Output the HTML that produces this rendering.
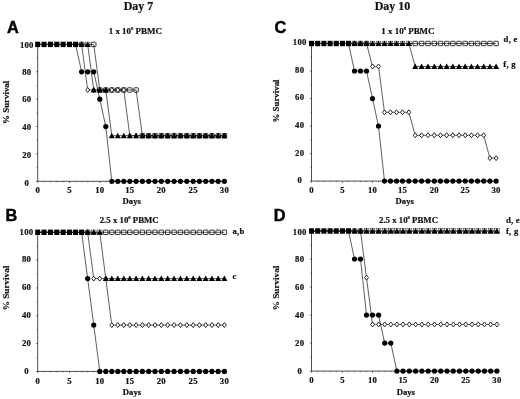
<!DOCTYPE html>
<html><head><meta charset="utf-8"><title>Survival figure</title>
<style>
html,body{margin:0;padding:0;background:#fff;}
body{width:520px;height:399px;overflow:hidden;}
svg{display:block;}
text{font-family:"Liberation Serif","Times New Roman",serif;font-weight:bold;fill:#111;stroke:#111;stroke-width:0.2px;}
.t{font-size:8.7px;letter-spacing:0.25px;}
.pt{font-size:8.95px;}
.al{font-size:8.7px;}
.h{font-size:12px;}
.pl{font-family:"Liberation Sans",Arial,sans-serif;font-size:16.3px;font-weight:bold;fill:#000;stroke:#000;stroke-width:0.45px;}
</style></head><body>
<svg width="520" height="399" viewBox="0 0 520 399">
<rect width="520" height="399" fill="#fff"/>
<text x="138.5" y="10.1" text-anchor="middle" class="h">Day 7</text>
<text x="392.5" y="10.0" text-anchor="middle" class="h">Day 10</text>
<path d="M37.70 44.40V181.30H224.40" fill="none" stroke="#3a3a3a" stroke-width="0.9"/>
<path d="M36.00 181.30H37.70M36.60 167.61H37.70M36.00 153.92H37.70M36.60 140.23H37.70M36.00 126.54H37.70M36.60 112.85H37.70M36.00 99.16H37.70M36.60 85.47H37.70M36.00 71.78H37.70M36.60 58.09H37.70M36.00 44.40H37.70M37.70 181.30v1.7M44.06 181.30v1.0M50.42 181.30v1.0M56.78 181.30v1.0M63.14 181.30v1.0M69.50 181.30v1.7M75.56 181.30v1.0M81.62 181.30v1.0M87.68 181.30v1.0M93.74 181.30v1.0M99.80 181.30v1.7M105.80 181.30v1.0M111.80 181.30v1.0M117.80 181.30v1.0M123.80 181.30v1.0M129.80 181.30v1.7M136.10 181.30v1.0M142.40 181.30v1.0M148.70 181.30v1.0M155.00 181.30v1.0M161.30 181.30v1.7M167.68 181.30v1.0M174.06 181.30v1.0M180.44 181.30v1.0M186.82 181.30v1.0M193.20 181.30v1.7M199.44 181.30v1.0M205.68 181.30v1.0M211.92 181.30v1.0M218.16 181.30v1.0M224.40 181.30v1.7" stroke="#3a3a3a" stroke-width="0.7" fill="none"/>
<text x="26.80" y="185.90" text-anchor="middle" class="t">0</text>
<text x="26.80" y="158.30" text-anchor="middle" class="t">20</text>
<text x="26.80" y="129.90" text-anchor="middle" class="t">40</text>
<text x="26.80" y="102.20" text-anchor="middle" class="t">60</text>
<text x="26.80" y="74.90" text-anchor="middle" class="t">80</text>
<text x="26.80" y="47.50" text-anchor="middle" class="t">100</text>
<text x="37.70" y="193.10" text-anchor="middle" class="t">0</text>
<text x="69.50" y="193.10" text-anchor="middle" class="t">5</text>
<text x="99.80" y="193.10" text-anchor="middle" class="t">10</text>
<text x="129.80" y="193.10" text-anchor="middle" class="t">15</text>
<text x="161.30" y="193.10" text-anchor="middle" class="t">20</text>
<text x="193.20" y="193.10" text-anchor="middle" class="t">25</text>
<text x="224.40" y="193.10" text-anchor="middle" class="t">30</text>
<path d="M37.70 44.40L44.06 44.40L50.42 44.40L56.78 44.40L63.14 44.40L69.50 44.40L75.56 44.40L81.62 44.40L87.68 44.40L93.74 44.40L99.80 89.99L105.80 89.99L111.80 89.99L117.80 89.99L123.80 89.99L129.80 89.99L136.10 89.99L142.40 135.71L148.70 135.71L155.00 135.71L161.30 135.71L167.68 135.71L174.06 135.71L180.44 135.71L186.82 135.71L193.20 135.71L199.44 135.71L205.68 135.71L211.92 135.71L218.16 135.71L224.40 135.71" fill="none" stroke="#2a2a2a" stroke-width="0.75"/>
<path d="M37.70 44.40L44.06 44.40L50.42 44.40L56.78 44.40L63.14 44.40L69.50 44.40L75.56 44.40L81.62 44.40L87.68 89.99L93.74 89.99L99.80 89.99L105.80 89.99L111.80 89.99L117.80 89.99L123.80 89.99L129.80 135.71L136.10 135.71L142.40 135.71L148.70 135.71L155.00 135.71L161.30 135.71L167.68 135.71L174.06 135.71L180.44 135.71L186.82 135.71L193.20 135.71L199.44 135.71L205.68 135.71L211.92 135.71L218.16 135.71L224.40 135.71" fill="none" stroke="#2a2a2a" stroke-width="0.75"/>
<path d="M37.70 44.40L44.06 44.40L50.42 44.40L56.78 44.40L63.14 44.40L69.50 44.40L75.56 44.40L81.62 44.40L87.68 44.40L93.74 89.99L99.80 89.99L105.80 89.99L111.80 135.71L117.80 135.71L123.80 135.71L129.80 135.71L136.10 135.71L142.40 135.71L148.70 135.71L155.00 135.71L161.30 135.71L167.68 135.71L174.06 135.71L180.44 135.71L186.82 135.71L193.20 135.71L199.44 135.71L205.68 135.71L211.92 135.71L218.16 135.71L224.40 135.71" fill="none" stroke="#2a2a2a" stroke-width="0.75"/>
<path d="M37.70 44.40L44.06 44.40L50.42 44.40L56.78 44.40L63.14 44.40L69.50 44.40L75.56 44.40L81.62 71.78L87.68 71.78L93.74 71.78L99.80 99.16L105.80 126.54L111.80 181.30L117.80 181.30L123.80 181.30L129.80 181.30L136.10 181.30L142.40 181.30L148.70 181.30L155.00 181.30L161.30 181.30L167.68 181.30L174.06 181.30L180.44 181.30L186.82 181.30L193.20 181.30L199.44 181.30L205.68 181.30L211.92 181.30L218.16 181.30L224.40 181.30" fill="none" stroke="#2a2a2a" stroke-width="0.75"/>
<rect x="79.37" y="42.20" width="4.5" height="4.4" rx="0.5" fill="none" stroke="#111" stroke-width="0.85"/>
<rect x="85.38" y="42.10" width="4.6" height="4.6" fill="none" stroke="#222" stroke-width="0.5"/>
<rect x="91.49" y="42.20" width="4.5" height="4.4" rx="0.5" fill="none" stroke="#111" stroke-width="0.85"/>
<rect x="97.55" y="87.79" width="4.5" height="4.4" rx="0.5" fill="none" stroke="#111" stroke-width="0.85"/>
<rect x="103.55" y="87.79" width="4.5" height="4.4" rx="0.5" fill="none" stroke="#111" stroke-width="0.85"/>
<rect x="109.55" y="87.79" width="4.5" height="4.4" rx="0.5" fill="none" stroke="#111" stroke-width="0.85"/>
<rect x="115.55" y="87.79" width="4.5" height="4.4" rx="0.5" fill="none" stroke="#111" stroke-width="0.85"/>
<rect x="121.55" y="87.79" width="4.5" height="4.4" rx="0.5" fill="none" stroke="#111" stroke-width="0.85"/>
<rect x="127.55" y="87.79" width="4.5" height="4.4" rx="0.5" fill="none" stroke="#111" stroke-width="0.85"/>
<rect x="133.85" y="87.79" width="4.5" height="4.4" rx="0.5" fill="none" stroke="#111" stroke-width="0.85"/>
<rect x="140.15" y="133.51" width="4.5" height="4.4" rx="0.5" fill="none" stroke="#111" stroke-width="0.85"/>
<rect x="146.45" y="133.51" width="4.5" height="4.4" rx="0.5" fill="none" stroke="#111" stroke-width="0.85"/>
<rect x="152.75" y="133.51" width="4.5" height="4.4" rx="0.5" fill="none" stroke="#111" stroke-width="0.85"/>
<rect x="159.05" y="133.51" width="4.5" height="4.4" rx="0.5" fill="none" stroke="#111" stroke-width="0.85"/>
<rect x="165.43" y="133.51" width="4.5" height="4.4" rx="0.5" fill="none" stroke="#111" stroke-width="0.85"/>
<rect x="171.81" y="133.51" width="4.5" height="4.4" rx="0.5" fill="none" stroke="#111" stroke-width="0.85"/>
<rect x="178.19" y="133.51" width="4.5" height="4.4" rx="0.5" fill="none" stroke="#111" stroke-width="0.85"/>
<rect x="184.57" y="133.51" width="4.5" height="4.4" rx="0.5" fill="none" stroke="#111" stroke-width="0.85"/>
<rect x="190.95" y="133.51" width="4.5" height="4.4" rx="0.5" fill="none" stroke="#111" stroke-width="0.85"/>
<rect x="197.19" y="133.51" width="4.5" height="4.4" rx="0.5" fill="none" stroke="#111" stroke-width="0.85"/>
<rect x="203.43" y="133.51" width="4.5" height="4.4" rx="0.5" fill="none" stroke="#111" stroke-width="0.85"/>
<rect x="209.67" y="133.51" width="4.5" height="4.4" rx="0.5" fill="none" stroke="#111" stroke-width="0.85"/>
<rect x="215.91" y="133.51" width="4.5" height="4.4" rx="0.5" fill="none" stroke="#111" stroke-width="0.85"/>
<rect x="222.15" y="133.51" width="4.5" height="4.4" rx="0.5" fill="none" stroke="#111" stroke-width="0.85"/>
<path d="M79.67 44.40L81.62 41.90L83.57 44.40L81.62 46.90Z" fill="#fff" stroke="#111" stroke-width="0.9" stroke-linejoin="round"/>
<path d="M85.73 89.99L87.68 87.49L89.63 89.99L87.68 92.49Z" fill="#fff" stroke="#111" stroke-width="0.9" stroke-linejoin="round"/>
<path d="M91.79 89.99L93.74 87.49L95.69 89.99L93.74 92.49Z" fill="#fff" stroke="#111" stroke-width="0.9" stroke-linejoin="round"/>
<path d="M97.85 89.99L99.80 87.49L101.75 89.99L99.80 92.49Z" fill="#fff" stroke="#111" stroke-width="0.9" stroke-linejoin="round"/>
<path d="M103.85 89.99L105.80 87.49L107.75 89.99L105.80 92.49Z" fill="#fff" stroke="#111" stroke-width="0.9" stroke-linejoin="round"/>
<path d="M109.85 89.99L111.80 87.49L113.75 89.99L111.80 92.49Z" fill="#fff" stroke="#111" stroke-width="0.9" stroke-linejoin="round"/>
<path d="M115.85 89.99L117.80 87.49L119.75 89.99L117.80 92.49Z" fill="#fff" stroke="#111" stroke-width="0.9" stroke-linejoin="round"/>
<path d="M121.85 89.99L123.80 87.49L125.75 89.99L123.80 92.49Z" fill="#fff" stroke="#111" stroke-width="0.9" stroke-linejoin="round"/>
<path d="M127.85 135.71L129.80 133.21L131.75 135.71L129.80 138.21Z" fill="#fff" stroke="#111" stroke-width="0.9" stroke-linejoin="round"/>
<path d="M134.15 135.71L136.10 133.21L138.05 135.71L136.10 138.21Z" fill="#fff" stroke="#111" stroke-width="0.9" stroke-linejoin="round"/>
<path d="M140.45 135.71L142.40 133.21L144.35 135.71L142.40 138.21Z" fill="#fff" stroke="#111" stroke-width="0.9" stroke-linejoin="round"/>
<path d="M146.75 135.71L148.70 133.21L150.65 135.71L148.70 138.21Z" fill="#fff" stroke="#111" stroke-width="0.9" stroke-linejoin="round"/>
<path d="M153.05 135.71L155.00 133.21L156.95 135.71L155.00 138.21Z" fill="#fff" stroke="#111" stroke-width="0.9" stroke-linejoin="round"/>
<path d="M159.35 135.71L161.30 133.21L163.25 135.71L161.30 138.21Z" fill="#fff" stroke="#111" stroke-width="0.9" stroke-linejoin="round"/>
<path d="M165.73 135.71L167.68 133.21L169.63 135.71L167.68 138.21Z" fill="#fff" stroke="#111" stroke-width="0.9" stroke-linejoin="round"/>
<path d="M172.11 135.71L174.06 133.21L176.01 135.71L174.06 138.21Z" fill="#fff" stroke="#111" stroke-width="0.9" stroke-linejoin="round"/>
<path d="M178.49 135.71L180.44 133.21L182.39 135.71L180.44 138.21Z" fill="#fff" stroke="#111" stroke-width="0.9" stroke-linejoin="round"/>
<path d="M184.87 135.71L186.82 133.21L188.77 135.71L186.82 138.21Z" fill="#fff" stroke="#111" stroke-width="0.9" stroke-linejoin="round"/>
<path d="M191.25 135.71L193.20 133.21L195.15 135.71L193.20 138.21Z" fill="#fff" stroke="#111" stroke-width="0.9" stroke-linejoin="round"/>
<path d="M197.49 135.71L199.44 133.21L201.39 135.71L199.44 138.21Z" fill="#fff" stroke="#111" stroke-width="0.9" stroke-linejoin="round"/>
<path d="M203.73 135.71L205.68 133.21L207.63 135.71L205.68 138.21Z" fill="#fff" stroke="#111" stroke-width="0.9" stroke-linejoin="round"/>
<path d="M209.97 135.71L211.92 133.21L213.87 135.71L211.92 138.21Z" fill="#fff" stroke="#111" stroke-width="0.9" stroke-linejoin="round"/>
<path d="M216.21 135.71L218.16 133.21L220.11 135.71L218.16 138.21Z" fill="#fff" stroke="#111" stroke-width="0.9" stroke-linejoin="round"/>
<path d="M222.45 135.71L224.40 133.21L226.35 135.71L224.40 138.21Z" fill="#fff" stroke="#111" stroke-width="0.9" stroke-linejoin="round"/>
<path d="M78.62 46.90L84.62 46.90L81.62 41.40Z" fill="#000"/>
<path d="M84.68 46.90L90.68 46.90L87.68 41.40Z" fill="#000"/>
<path d="M90.74 92.49L96.74 92.49L93.74 86.99Z" fill="#000"/>
<path d="M96.80 92.49L102.80 92.49L99.80 86.99Z" fill="#000"/>
<path d="M102.80 92.49L108.80 92.49L105.80 86.99Z" fill="#000"/>
<path d="M108.80 138.21L114.80 138.21L111.80 132.71Z" fill="#000"/>
<path d="M114.80 138.21L120.80 138.21L117.80 132.71Z" fill="#000"/>
<path d="M120.80 138.21L126.80 138.21L123.80 132.71Z" fill="#000"/>
<path d="M126.80 138.21L132.80 138.21L129.80 132.71Z" fill="#000"/>
<path d="M133.10 138.21L139.10 138.21L136.10 132.71Z" fill="#000"/>
<path d="M139.40 138.21L145.40 138.21L142.40 132.71Z" fill="#000"/>
<path d="M145.70 138.21L151.70 138.21L148.70 132.71Z" fill="#000"/>
<path d="M152.00 138.21L158.00 138.21L155.00 132.71Z" fill="#000"/>
<path d="M158.30 138.21L164.30 138.21L161.30 132.71Z" fill="#000"/>
<path d="M164.68 138.21L170.68 138.21L167.68 132.71Z" fill="#000"/>
<path d="M171.06 138.21L177.06 138.21L174.06 132.71Z" fill="#000"/>
<path d="M177.44 138.21L183.44 138.21L180.44 132.71Z" fill="#000"/>
<path d="M183.82 138.21L189.82 138.21L186.82 132.71Z" fill="#000"/>
<path d="M190.20 138.21L196.20 138.21L193.20 132.71Z" fill="#000"/>
<path d="M196.44 138.21L202.44 138.21L199.44 132.71Z" fill="#000"/>
<path d="M202.68 138.21L208.68 138.21L205.68 132.71Z" fill="#000"/>
<path d="M208.92 138.21L214.92 138.21L211.92 132.71Z" fill="#000"/>
<path d="M215.16 138.21L221.16 138.21L218.16 132.71Z" fill="#000"/>
<path d="M221.40 138.21L227.40 138.21L224.40 132.71Z" fill="#000"/>
<circle cx="81.62" cy="71.78" r="2.6" fill="#000"/>
<circle cx="87.68" cy="71.78" r="2.6" fill="#000"/>
<circle cx="93.74" cy="71.78" r="2.6" fill="#000"/>
<circle cx="99.80" cy="99.16" r="2.6" fill="#000"/>
<circle cx="105.80" cy="126.54" r="2.6" fill="#000"/>
<circle cx="111.80" cy="181.30" r="2.6" fill="#000"/>
<circle cx="117.80" cy="181.30" r="2.6" fill="#000"/>
<circle cx="123.80" cy="181.30" r="2.6" fill="#000"/>
<circle cx="129.80" cy="181.30" r="2.6" fill="#000"/>
<circle cx="136.10" cy="181.30" r="2.6" fill="#000"/>
<circle cx="142.40" cy="181.30" r="2.6" fill="#000"/>
<circle cx="148.70" cy="181.30" r="2.6" fill="#000"/>
<circle cx="155.00" cy="181.30" r="2.6" fill="#000"/>
<circle cx="161.30" cy="181.30" r="2.6" fill="#000"/>
<circle cx="167.68" cy="181.30" r="2.6" fill="#000"/>
<circle cx="174.06" cy="181.30" r="2.6" fill="#000"/>
<circle cx="180.44" cy="181.30" r="2.6" fill="#000"/>
<circle cx="186.82" cy="181.30" r="2.6" fill="#000"/>
<circle cx="193.20" cy="181.30" r="2.6" fill="#000"/>
<circle cx="199.44" cy="181.30" r="2.6" fill="#000"/>
<circle cx="205.68" cy="181.30" r="2.6" fill="#000"/>
<circle cx="211.92" cy="181.30" r="2.6" fill="#000"/>
<circle cx="218.16" cy="181.30" r="2.6" fill="#000"/>
<circle cx="224.40" cy="181.30" r="2.6" fill="#000"/>
<rect x="35.20" y="41.70" width="5.0" height="5.4" fill="#000"/>
<rect x="41.56" y="41.70" width="5.0" height="5.4" fill="#000"/>
<rect x="47.92" y="41.70" width="5.0" height="5.4" fill="#000"/>
<rect x="54.28" y="41.70" width="5.0" height="5.4" fill="#000"/>
<rect x="60.64" y="41.70" width="5.0" height="5.4" fill="#000"/>
<rect x="67.00" y="41.70" width="5.0" height="5.4" fill="#000"/>
<rect x="73.06" y="41.70" width="5.0" height="5.4" fill="#000"/>
<text x="135.3" y="33.6" text-anchor="middle" class="pt" style="font-size:8.95px">1 x 10<tspan dy="-3.6" style="font-size:4.6px">6</tspan><tspan dy="3.6"> PBMC</tspan></text>
<text x="7.1" y="33.3" class="pl">A</text>
<path d="M37.70 232.30V371.40H224.40" fill="none" stroke="#3a3a3a" stroke-width="0.9"/>
<path d="M36.00 371.40H37.70M36.60 357.49H37.70M36.00 343.58H37.70M36.60 329.67H37.70M36.00 315.76H37.70M36.60 301.85H37.70M36.00 287.94H37.70M36.60 274.03H37.70M36.00 260.12H37.70M36.60 246.21H37.70M36.00 232.30H37.70M37.70 371.40v1.7M44.06 371.40v1.0M50.42 371.40v1.0M56.78 371.40v1.0M63.14 371.40v1.0M69.50 371.40v1.7M75.56 371.40v1.0M81.62 371.40v1.0M87.68 371.40v1.0M93.74 371.40v1.0M99.80 371.40v1.7M105.80 371.40v1.0M111.80 371.40v1.0M117.80 371.40v1.0M123.80 371.40v1.0M129.80 371.40v1.7M136.10 371.40v1.0M142.40 371.40v1.0M148.70 371.40v1.0M155.00 371.40v1.0M161.30 371.40v1.7M167.68 371.40v1.0M174.06 371.40v1.0M180.44 371.40v1.0M186.82 371.40v1.0M193.20 371.40v1.7M199.44 371.40v1.0M205.68 371.40v1.0M211.92 371.40v1.0M218.16 371.40v1.0M224.40 371.40v1.7" stroke="#3a3a3a" stroke-width="0.7" fill="none"/>
<text x="26.50" y="373.50" text-anchor="middle" class="t">0</text>
<text x="26.50" y="345.90" text-anchor="middle" class="t">20</text>
<text x="26.50" y="317.90" text-anchor="middle" class="t">40</text>
<text x="26.50" y="290.30" text-anchor="middle" class="t">60</text>
<text x="26.50" y="262.30" text-anchor="middle" class="t">80</text>
<text x="26.50" y="235.30" text-anchor="middle" class="t">100</text>
<text x="37.70" y="383.70" text-anchor="middle" class="t">0</text>
<text x="69.50" y="383.70" text-anchor="middle" class="t">5</text>
<text x="99.80" y="383.70" text-anchor="middle" class="t">10</text>
<text x="129.80" y="383.70" text-anchor="middle" class="t">15</text>
<text x="161.30" y="383.70" text-anchor="middle" class="t">20</text>
<text x="193.20" y="383.70" text-anchor="middle" class="t">25</text>
<text x="224.40" y="383.70" text-anchor="middle" class="t">30</text>
<path d="M37.70 232.30L44.06 232.30L50.42 232.30L56.78 232.30L63.14 232.30L69.50 232.30L75.56 232.30L81.62 232.30L87.68 232.30L93.74 232.30L99.80 232.30L105.80 232.30L111.80 232.30L117.80 232.30L123.80 232.30L129.80 232.30L136.10 232.30L142.40 232.30L148.70 232.30L155.00 232.30L161.30 232.30L167.68 232.30L174.06 232.30L180.44 232.30L186.82 232.30L193.20 232.30L199.44 232.30L205.68 232.30L211.92 232.30L218.16 232.30L224.40 232.30" fill="none" stroke="#2a2a2a" stroke-width="0.75"/>
<path d="M37.70 232.30L44.06 232.30L50.42 232.30L56.78 232.30L63.14 232.30L69.50 232.30L75.56 232.30L81.62 232.30L87.68 232.30L93.74 278.62L99.80 278.62L105.80 278.62L111.80 325.08L117.80 325.08L123.80 325.08L129.80 325.08L136.10 325.08L142.40 325.08L148.70 325.08L155.00 325.08L161.30 325.08L167.68 325.08L174.06 325.08L180.44 325.08L186.82 325.08L193.20 325.08L199.44 325.08L205.68 325.08L211.92 325.08L218.16 325.08L224.40 325.08" fill="none" stroke="#2a2a2a" stroke-width="0.75"/>
<path d="M37.70 232.30L44.06 232.30L50.42 232.30L56.78 232.30L63.14 232.30L69.50 232.30L75.56 232.30L81.62 232.30L87.68 232.30L93.74 232.30L99.80 232.30L105.80 278.62L111.80 278.62L117.80 278.62L123.80 278.62L129.80 278.62L136.10 278.62L142.40 278.62L148.70 278.62L155.00 278.62L161.30 278.62L167.68 278.62L174.06 278.62L180.44 278.62L186.82 278.62L193.20 278.62L199.44 278.62L205.68 278.62L211.92 278.62L218.16 278.62L224.40 278.62" fill="none" stroke="#2a2a2a" stroke-width="0.75"/>
<path d="M37.70 232.30L44.06 232.30L50.42 232.30L56.78 232.30L63.14 232.30L69.50 232.30L75.56 232.30L81.62 232.30L87.68 278.62L93.74 325.08L99.80 371.40L105.80 371.40L111.80 371.40L117.80 371.40L123.80 371.40L129.80 371.40L136.10 371.40L142.40 371.40L148.70 371.40L155.00 371.40L161.30 371.40L167.68 371.40L174.06 371.40L180.44 371.40L186.82 371.40L193.20 371.40L199.44 371.40L205.68 371.40L211.92 371.40L218.16 371.40L224.40 371.40" fill="none" stroke="#2a2a2a" stroke-width="0.75"/>
<rect x="85.43" y="230.10" width="4.5" height="4.4" rx="0.5" fill="none" stroke="#111" stroke-width="0.85"/>
<rect x="91.44" y="230.00" width="4.6" height="4.6" fill="none" stroke="#222" stroke-width="0.5"/>
<rect x="97.50" y="230.00" width="4.6" height="4.6" fill="none" stroke="#222" stroke-width="0.5"/>
<rect x="103.55" y="230.10" width="4.5" height="4.4" rx="0.5" fill="none" stroke="#111" stroke-width="0.85"/>
<rect x="109.55" y="230.10" width="4.5" height="4.4" rx="0.5" fill="none" stroke="#111" stroke-width="0.85"/>
<rect x="115.55" y="230.10" width="4.5" height="4.4" rx="0.5" fill="none" stroke="#111" stroke-width="0.85"/>
<rect x="121.55" y="230.10" width="4.5" height="4.4" rx="0.5" fill="none" stroke="#111" stroke-width="0.85"/>
<rect x="127.55" y="230.10" width="4.5" height="4.4" rx="0.5" fill="none" stroke="#111" stroke-width="0.85"/>
<rect x="133.85" y="230.10" width="4.5" height="4.4" rx="0.5" fill="none" stroke="#111" stroke-width="0.85"/>
<rect x="140.15" y="230.10" width="4.5" height="4.4" rx="0.5" fill="none" stroke="#111" stroke-width="0.85"/>
<rect x="146.45" y="230.10" width="4.5" height="4.4" rx="0.5" fill="none" stroke="#111" stroke-width="0.85"/>
<rect x="152.75" y="230.10" width="4.5" height="4.4" rx="0.5" fill="none" stroke="#111" stroke-width="0.85"/>
<rect x="159.05" y="230.10" width="4.5" height="4.4" rx="0.5" fill="none" stroke="#111" stroke-width="0.85"/>
<rect x="165.43" y="230.10" width="4.5" height="4.4" rx="0.5" fill="none" stroke="#111" stroke-width="0.85"/>
<rect x="171.81" y="230.10" width="4.5" height="4.4" rx="0.5" fill="none" stroke="#111" stroke-width="0.85"/>
<rect x="178.19" y="230.10" width="4.5" height="4.4" rx="0.5" fill="none" stroke="#111" stroke-width="0.85"/>
<rect x="184.57" y="230.10" width="4.5" height="4.4" rx="0.5" fill="none" stroke="#111" stroke-width="0.85"/>
<rect x="190.95" y="230.10" width="4.5" height="4.4" rx="0.5" fill="none" stroke="#111" stroke-width="0.85"/>
<rect x="197.19" y="230.10" width="4.5" height="4.4" rx="0.5" fill="none" stroke="#111" stroke-width="0.85"/>
<rect x="203.43" y="230.10" width="4.5" height="4.4" rx="0.5" fill="none" stroke="#111" stroke-width="0.85"/>
<rect x="209.67" y="230.10" width="4.5" height="4.4" rx="0.5" fill="none" stroke="#111" stroke-width="0.85"/>
<rect x="215.91" y="230.10" width="4.5" height="4.4" rx="0.5" fill="none" stroke="#111" stroke-width="0.85"/>
<rect x="222.15" y="230.10" width="4.5" height="4.4" rx="0.5" fill="none" stroke="#111" stroke-width="0.85"/>
<path d="M85.73 232.30L87.68 229.80L89.63 232.30L87.68 234.80Z" fill="#fff" stroke="#111" stroke-width="0.9" stroke-linejoin="round"/>
<path d="M91.79 278.62L93.74 276.12L95.69 278.62L93.74 281.12Z" fill="#fff" stroke="#111" stroke-width="0.9" stroke-linejoin="round"/>
<path d="M97.85 278.62L99.80 276.12L101.75 278.62L99.80 281.12Z" fill="#fff" stroke="#111" stroke-width="0.9" stroke-linejoin="round"/>
<path d="M103.85 278.62L105.80 276.12L107.75 278.62L105.80 281.12Z" fill="#fff" stroke="#111" stroke-width="0.9" stroke-linejoin="round"/>
<path d="M109.85 325.08L111.80 322.58L113.75 325.08L111.80 327.58Z" fill="#fff" stroke="#111" stroke-width="0.9" stroke-linejoin="round"/>
<path d="M115.85 325.08L117.80 322.58L119.75 325.08L117.80 327.58Z" fill="#fff" stroke="#111" stroke-width="0.9" stroke-linejoin="round"/>
<path d="M121.85 325.08L123.80 322.58L125.75 325.08L123.80 327.58Z" fill="#fff" stroke="#111" stroke-width="0.9" stroke-linejoin="round"/>
<path d="M127.85 325.08L129.80 322.58L131.75 325.08L129.80 327.58Z" fill="#fff" stroke="#111" stroke-width="0.9" stroke-linejoin="round"/>
<path d="M134.15 325.08L136.10 322.58L138.05 325.08L136.10 327.58Z" fill="#fff" stroke="#111" stroke-width="0.9" stroke-linejoin="round"/>
<path d="M140.45 325.08L142.40 322.58L144.35 325.08L142.40 327.58Z" fill="#fff" stroke="#111" stroke-width="0.9" stroke-linejoin="round"/>
<path d="M146.75 325.08L148.70 322.58L150.65 325.08L148.70 327.58Z" fill="#fff" stroke="#111" stroke-width="0.9" stroke-linejoin="round"/>
<path d="M153.05 325.08L155.00 322.58L156.95 325.08L155.00 327.58Z" fill="#fff" stroke="#111" stroke-width="0.9" stroke-linejoin="round"/>
<path d="M159.35 325.08L161.30 322.58L163.25 325.08L161.30 327.58Z" fill="#fff" stroke="#111" stroke-width="0.9" stroke-linejoin="round"/>
<path d="M165.73 325.08L167.68 322.58L169.63 325.08L167.68 327.58Z" fill="#fff" stroke="#111" stroke-width="0.9" stroke-linejoin="round"/>
<path d="M172.11 325.08L174.06 322.58L176.01 325.08L174.06 327.58Z" fill="#fff" stroke="#111" stroke-width="0.9" stroke-linejoin="round"/>
<path d="M178.49 325.08L180.44 322.58L182.39 325.08L180.44 327.58Z" fill="#fff" stroke="#111" stroke-width="0.9" stroke-linejoin="round"/>
<path d="M184.87 325.08L186.82 322.58L188.77 325.08L186.82 327.58Z" fill="#fff" stroke="#111" stroke-width="0.9" stroke-linejoin="round"/>
<path d="M191.25 325.08L193.20 322.58L195.15 325.08L193.20 327.58Z" fill="#fff" stroke="#111" stroke-width="0.9" stroke-linejoin="round"/>
<path d="M197.49 325.08L199.44 322.58L201.39 325.08L199.44 327.58Z" fill="#fff" stroke="#111" stroke-width="0.9" stroke-linejoin="round"/>
<path d="M203.73 325.08L205.68 322.58L207.63 325.08L205.68 327.58Z" fill="#fff" stroke="#111" stroke-width="0.9" stroke-linejoin="round"/>
<path d="M209.97 325.08L211.92 322.58L213.87 325.08L211.92 327.58Z" fill="#fff" stroke="#111" stroke-width="0.9" stroke-linejoin="round"/>
<path d="M216.21 325.08L218.16 322.58L220.11 325.08L218.16 327.58Z" fill="#fff" stroke="#111" stroke-width="0.9" stroke-linejoin="round"/>
<path d="M222.45 325.08L224.40 322.58L226.35 325.08L224.40 327.58Z" fill="#fff" stroke="#111" stroke-width="0.9" stroke-linejoin="round"/>
<path d="M84.68 234.80L90.68 234.80L87.68 229.30Z" fill="#000"/>
<path d="M90.74 234.80L96.74 234.80L93.74 229.30Z" fill="#000"/>
<path d="M96.80 234.80L102.80 234.80L99.80 229.30Z" fill="#000"/>
<path d="M102.80 281.12L108.80 281.12L105.80 275.62Z" fill="#000"/>
<path d="M108.80 281.12L114.80 281.12L111.80 275.62Z" fill="#000"/>
<path d="M114.80 281.12L120.80 281.12L117.80 275.62Z" fill="#000"/>
<path d="M120.80 281.12L126.80 281.12L123.80 275.62Z" fill="#000"/>
<path d="M126.80 281.12L132.80 281.12L129.80 275.62Z" fill="#000"/>
<path d="M133.10 281.12L139.10 281.12L136.10 275.62Z" fill="#000"/>
<path d="M139.40 281.12L145.40 281.12L142.40 275.62Z" fill="#000"/>
<path d="M145.70 281.12L151.70 281.12L148.70 275.62Z" fill="#000"/>
<path d="M152.00 281.12L158.00 281.12L155.00 275.62Z" fill="#000"/>
<path d="M158.30 281.12L164.30 281.12L161.30 275.62Z" fill="#000"/>
<path d="M164.68 281.12L170.68 281.12L167.68 275.62Z" fill="#000"/>
<path d="M171.06 281.12L177.06 281.12L174.06 275.62Z" fill="#000"/>
<path d="M177.44 281.12L183.44 281.12L180.44 275.62Z" fill="#000"/>
<path d="M183.82 281.12L189.82 281.12L186.82 275.62Z" fill="#000"/>
<path d="M190.20 281.12L196.20 281.12L193.20 275.62Z" fill="#000"/>
<path d="M196.44 281.12L202.44 281.12L199.44 275.62Z" fill="#000"/>
<path d="M202.68 281.12L208.68 281.12L205.68 275.62Z" fill="#000"/>
<path d="M208.92 281.12L214.92 281.12L211.92 275.62Z" fill="#000"/>
<path d="M215.16 281.12L221.16 281.12L218.16 275.62Z" fill="#000"/>
<path d="M221.40 281.12L227.40 281.12L224.40 275.62Z" fill="#000"/>
<circle cx="87.68" cy="278.62" r="2.6" fill="#000"/>
<circle cx="93.74" cy="325.08" r="2.6" fill="#000"/>
<circle cx="99.80" cy="371.40" r="2.6" fill="#000"/>
<circle cx="105.80" cy="371.40" r="2.6" fill="#000"/>
<circle cx="111.80" cy="371.40" r="2.6" fill="#000"/>
<circle cx="117.80" cy="371.40" r="2.6" fill="#000"/>
<circle cx="123.80" cy="371.40" r="2.6" fill="#000"/>
<circle cx="129.80" cy="371.40" r="2.6" fill="#000"/>
<circle cx="136.10" cy="371.40" r="2.6" fill="#000"/>
<circle cx="142.40" cy="371.40" r="2.6" fill="#000"/>
<circle cx="148.70" cy="371.40" r="2.6" fill="#000"/>
<circle cx="155.00" cy="371.40" r="2.6" fill="#000"/>
<circle cx="161.30" cy="371.40" r="2.6" fill="#000"/>
<circle cx="167.68" cy="371.40" r="2.6" fill="#000"/>
<circle cx="174.06" cy="371.40" r="2.6" fill="#000"/>
<circle cx="180.44" cy="371.40" r="2.6" fill="#000"/>
<circle cx="186.82" cy="371.40" r="2.6" fill="#000"/>
<circle cx="193.20" cy="371.40" r="2.6" fill="#000"/>
<circle cx="199.44" cy="371.40" r="2.6" fill="#000"/>
<circle cx="205.68" cy="371.40" r="2.6" fill="#000"/>
<circle cx="211.92" cy="371.40" r="2.6" fill="#000"/>
<circle cx="218.16" cy="371.40" r="2.6" fill="#000"/>
<circle cx="224.40" cy="371.40" r="2.6" fill="#000"/>
<rect x="35.20" y="229.60" width="5.0" height="5.4" fill="#000"/>
<rect x="41.56" y="229.60" width="5.0" height="5.4" fill="#000"/>
<rect x="47.92" y="229.60" width="5.0" height="5.4" fill="#000"/>
<rect x="54.28" y="229.60" width="5.0" height="5.4" fill="#000"/>
<rect x="60.64" y="229.60" width="5.0" height="5.4" fill="#000"/>
<rect x="67.00" y="229.60" width="5.0" height="5.4" fill="#000"/>
<rect x="73.06" y="229.60" width="5.0" height="5.4" fill="#000"/>
<rect x="79.12" y="229.60" width="5.0" height="5.4" fill="#000"/>
<text x="129.2" y="222.9" text-anchor="middle" class="pt" style="font-size:8.8px">2.5 x 10<tspan dy="-3.6" style="font-size:4.6px">6</tspan><tspan dy="3.6"> PBMC</tspan></text>
<text x="5.4" y="220.7" class="pl">B</text>
<text x="232.4" y="233.6" class="t">a,b</text>
<text x="232.5" y="278.5" class="t">c</text>
<path d="M311.50 43.50V181.10H496.10" fill="none" stroke="#3a3a3a" stroke-width="0.9"/>
<path d="M309.80 181.10H311.50M310.40 167.34H311.50M309.80 153.58H311.50M310.40 139.82H311.50M309.80 126.06H311.50M310.40 112.30H311.50M309.80 98.54H311.50M310.40 84.78H311.50M309.80 71.02H311.50M310.40 57.26H311.50M309.80 43.50H311.50M311.50 181.10v1.7M317.70 181.10v1.0M323.90 181.10v1.0M330.10 181.10v1.0M336.30 181.10v1.0M342.50 181.10v1.7M348.50 181.10v1.0M354.50 181.10v1.0M360.50 181.10v1.0M366.50 181.10v1.0M372.50 181.10v1.7M378.50 181.10v1.0M384.50 181.10v1.0M390.50 181.10v1.0M396.50 181.10v1.0M402.50 181.10v1.7M408.86 181.10v1.0M415.22 181.10v1.0M421.58 181.10v1.0M427.94 181.10v1.0M434.30 181.10v1.7M440.48 181.10v1.0M446.66 181.10v1.0M452.84 181.10v1.0M459.02 181.10v1.0M465.20 181.10v1.7M471.38 181.10v1.0M477.56 181.10v1.0M483.74 181.10v1.0M489.92 181.10v1.0M496.10 181.10v1.7" stroke="#3a3a3a" stroke-width="0.7" fill="none"/>
<text x="299.70" y="182.90" text-anchor="middle" class="t">0</text>
<text x="299.70" y="155.50" text-anchor="middle" class="t">20</text>
<text x="299.70" y="127.50" text-anchor="middle" class="t">40</text>
<text x="299.70" y="100.30" text-anchor="middle" class="t">60</text>
<text x="299.70" y="72.50" text-anchor="middle" class="t">80</text>
<text x="299.70" y="45.30" text-anchor="middle" class="t">100</text>
<text x="311.50" y="192.90" text-anchor="middle" class="t">0</text>
<text x="342.50" y="192.90" text-anchor="middle" class="t">5</text>
<text x="372.50" y="192.90" text-anchor="middle" class="t">10</text>
<text x="402.50" y="192.90" text-anchor="middle" class="t">15</text>
<text x="434.30" y="192.90" text-anchor="middle" class="t">20</text>
<text x="465.20" y="192.90" text-anchor="middle" class="t">25</text>
<text x="496.10" y="192.90" text-anchor="middle" class="t">30</text>
<path d="M311.50 43.50L317.70 43.50L323.90 43.50L330.10 43.50L336.30 43.50L342.50 43.50L348.50 43.50L354.50 43.50L360.50 43.50L366.50 43.50L372.50 43.50L378.50 43.50L384.50 43.50L390.50 43.50L396.50 43.50L402.50 43.50L408.86 43.50L415.22 43.50L421.58 43.50L427.94 43.50L434.30 43.50L440.48 43.50L446.66 43.50L452.84 43.50L459.02 43.50L465.20 43.50L471.38 43.50L477.56 43.50L483.74 43.50L489.92 43.50L496.10 43.50" fill="none" stroke="#2a2a2a" stroke-width="0.75"/>
<path d="M311.50 43.50L317.70 43.50L323.90 43.50L330.10 43.50L336.30 43.50L342.50 43.50L348.50 43.50L354.50 43.50L360.50 43.50L366.50 43.50L372.50 66.48L378.50 66.48L384.50 112.30L390.50 112.30L396.50 112.30L402.50 112.30L408.86 112.30L415.22 135.28L421.58 135.28L427.94 135.28L434.30 135.28L440.48 135.28L446.66 135.28L452.84 135.28L459.02 135.28L465.20 135.28L471.38 135.28L477.56 135.28L483.74 135.28L489.92 158.12L496.10 158.12" fill="none" stroke="#2a2a2a" stroke-width="0.75"/>
<path d="M311.50 43.50L317.70 43.50L323.90 43.50L330.10 43.50L336.30 43.50L342.50 43.50L348.50 43.50L354.50 43.50L360.50 43.50L366.50 43.50L372.50 43.50L378.50 43.50L384.50 43.50L390.50 43.50L396.50 43.50L402.50 43.50L408.86 43.50L415.22 66.48L421.58 66.48L427.94 66.48L434.30 66.48L440.48 66.48L446.66 66.48L452.84 66.48L459.02 66.48L465.20 66.48L471.38 66.48L477.56 66.48L483.74 66.48L489.92 66.48L496.10 66.48" fill="none" stroke="#2a2a2a" stroke-width="0.75"/>
<path d="M311.50 43.50L317.70 43.50L323.90 43.50L330.10 43.50L336.30 43.50L342.50 43.50L348.50 43.50L354.50 71.02L360.50 71.02L366.50 71.02L372.50 98.54L378.50 126.06L384.50 181.10L390.50 181.10L396.50 181.10L402.50 181.10L408.86 181.10L415.22 181.10L421.58 181.10L427.94 181.10L434.30 181.10L440.48 181.10L446.66 181.10L452.84 181.10L459.02 181.10L465.20 181.10L471.38 181.10L477.56 181.10L483.74 181.10L489.92 181.10L496.10 181.10" fill="none" stroke="#2a2a2a" stroke-width="0.75"/>
<rect x="352.25" y="41.30" width="4.5" height="4.4" rx="0.5" fill="none" stroke="#111" stroke-width="0.85"/>
<rect x="358.25" y="41.30" width="4.5" height="4.4" rx="0.5" fill="none" stroke="#111" stroke-width="0.85"/>
<rect x="364.25" y="41.30" width="4.5" height="4.4" rx="0.5" fill="none" stroke="#111" stroke-width="0.85"/>
<rect x="370.20" y="41.20" width="4.6" height="4.6" fill="none" stroke="#222" stroke-width="0.5"/>
<rect x="376.20" y="41.20" width="4.6" height="4.6" fill="none" stroke="#222" stroke-width="0.5"/>
<rect x="382.20" y="41.20" width="4.6" height="4.6" fill="none" stroke="#222" stroke-width="0.5"/>
<rect x="388.20" y="41.20" width="4.6" height="4.6" fill="none" stroke="#222" stroke-width="0.5"/>
<rect x="394.20" y="41.20" width="4.6" height="4.6" fill="none" stroke="#222" stroke-width="0.5"/>
<rect x="400.20" y="41.20" width="4.6" height="4.6" fill="none" stroke="#222" stroke-width="0.5"/>
<rect x="406.56" y="41.20" width="4.6" height="4.6" fill="none" stroke="#222" stroke-width="0.5"/>
<rect x="412.97" y="41.30" width="4.5" height="4.4" rx="0.5" fill="none" stroke="#111" stroke-width="0.85"/>
<rect x="419.33" y="41.30" width="4.5" height="4.4" rx="0.5" fill="none" stroke="#111" stroke-width="0.85"/>
<rect x="425.69" y="41.30" width="4.5" height="4.4" rx="0.5" fill="none" stroke="#111" stroke-width="0.85"/>
<rect x="432.05" y="41.30" width="4.5" height="4.4" rx="0.5" fill="none" stroke="#111" stroke-width="0.85"/>
<rect x="438.23" y="41.30" width="4.5" height="4.4" rx="0.5" fill="none" stroke="#111" stroke-width="0.85"/>
<rect x="444.41" y="41.30" width="4.5" height="4.4" rx="0.5" fill="none" stroke="#111" stroke-width="0.85"/>
<rect x="450.59" y="41.30" width="4.5" height="4.4" rx="0.5" fill="none" stroke="#111" stroke-width="0.85"/>
<rect x="456.77" y="41.30" width="4.5" height="4.4" rx="0.5" fill="none" stroke="#111" stroke-width="0.85"/>
<rect x="462.95" y="41.30" width="4.5" height="4.4" rx="0.5" fill="none" stroke="#111" stroke-width="0.85"/>
<rect x="469.13" y="41.30" width="4.5" height="4.4" rx="0.5" fill="none" stroke="#111" stroke-width="0.85"/>
<rect x="475.31" y="41.30" width="4.5" height="4.4" rx="0.5" fill="none" stroke="#111" stroke-width="0.85"/>
<rect x="481.49" y="41.30" width="4.5" height="4.4" rx="0.5" fill="none" stroke="#111" stroke-width="0.85"/>
<rect x="487.67" y="41.30" width="4.5" height="4.4" rx="0.5" fill="none" stroke="#111" stroke-width="0.85"/>
<rect x="493.85" y="41.30" width="4.5" height="4.4" rx="0.5" fill="none" stroke="#111" stroke-width="0.85"/>
<path d="M352.55 43.50L354.50 41.00L356.45 43.50L354.50 46.00Z" fill="#fff" stroke="#111" stroke-width="0.9" stroke-linejoin="round"/>
<path d="M358.55 43.50L360.50 41.00L362.45 43.50L360.50 46.00Z" fill="#fff" stroke="#111" stroke-width="0.9" stroke-linejoin="round"/>
<path d="M364.55 43.50L366.50 41.00L368.45 43.50L366.50 46.00Z" fill="#fff" stroke="#111" stroke-width="0.9" stroke-linejoin="round"/>
<path d="M370.55 66.48L372.50 63.98L374.45 66.48L372.50 68.98Z" fill="#fff" stroke="#111" stroke-width="0.9" stroke-linejoin="round"/>
<path d="M376.55 66.48L378.50 63.98L380.45 66.48L378.50 68.98Z" fill="#fff" stroke="#111" stroke-width="0.9" stroke-linejoin="round"/>
<path d="M382.55 112.30L384.50 109.80L386.45 112.30L384.50 114.80Z" fill="#fff" stroke="#111" stroke-width="0.9" stroke-linejoin="round"/>
<path d="M388.55 112.30L390.50 109.80L392.45 112.30L390.50 114.80Z" fill="#fff" stroke="#111" stroke-width="0.9" stroke-linejoin="round"/>
<path d="M394.55 112.30L396.50 109.80L398.45 112.30L396.50 114.80Z" fill="#fff" stroke="#111" stroke-width="0.9" stroke-linejoin="round"/>
<path d="M400.55 112.30L402.50 109.80L404.45 112.30L402.50 114.80Z" fill="#fff" stroke="#111" stroke-width="0.9" stroke-linejoin="round"/>
<path d="M406.91 112.30L408.86 109.80L410.81 112.30L408.86 114.80Z" fill="#fff" stroke="#111" stroke-width="0.9" stroke-linejoin="round"/>
<path d="M413.27 135.28L415.22 132.78L417.17 135.28L415.22 137.78Z" fill="#fff" stroke="#111" stroke-width="0.9" stroke-linejoin="round"/>
<path d="M419.63 135.28L421.58 132.78L423.53 135.28L421.58 137.78Z" fill="#fff" stroke="#111" stroke-width="0.9" stroke-linejoin="round"/>
<path d="M425.99 135.28L427.94 132.78L429.89 135.28L427.94 137.78Z" fill="#fff" stroke="#111" stroke-width="0.9" stroke-linejoin="round"/>
<path d="M432.35 135.28L434.30 132.78L436.25 135.28L434.30 137.78Z" fill="#fff" stroke="#111" stroke-width="0.9" stroke-linejoin="round"/>
<path d="M438.53 135.28L440.48 132.78L442.43 135.28L440.48 137.78Z" fill="#fff" stroke="#111" stroke-width="0.9" stroke-linejoin="round"/>
<path d="M444.71 135.28L446.66 132.78L448.61 135.28L446.66 137.78Z" fill="#fff" stroke="#111" stroke-width="0.9" stroke-linejoin="round"/>
<path d="M450.89 135.28L452.84 132.78L454.79 135.28L452.84 137.78Z" fill="#fff" stroke="#111" stroke-width="0.9" stroke-linejoin="round"/>
<path d="M457.07 135.28L459.02 132.78L460.97 135.28L459.02 137.78Z" fill="#fff" stroke="#111" stroke-width="0.9" stroke-linejoin="round"/>
<path d="M463.25 135.28L465.20 132.78L467.15 135.28L465.20 137.78Z" fill="#fff" stroke="#111" stroke-width="0.9" stroke-linejoin="round"/>
<path d="M469.43 135.28L471.38 132.78L473.33 135.28L471.38 137.78Z" fill="#fff" stroke="#111" stroke-width="0.9" stroke-linejoin="round"/>
<path d="M475.61 135.28L477.56 132.78L479.51 135.28L477.56 137.78Z" fill="#fff" stroke="#111" stroke-width="0.9" stroke-linejoin="round"/>
<path d="M481.79 135.28L483.74 132.78L485.69 135.28L483.74 137.78Z" fill="#fff" stroke="#111" stroke-width="0.9" stroke-linejoin="round"/>
<path d="M487.97 158.12L489.92 155.62L491.87 158.12L489.92 160.62Z" fill="#fff" stroke="#111" stroke-width="0.9" stroke-linejoin="round"/>
<path d="M494.15 158.12L496.10 155.62L498.05 158.12L496.10 160.62Z" fill="#fff" stroke="#111" stroke-width="0.9" stroke-linejoin="round"/>
<path d="M351.50 46.00L357.50 46.00L354.50 40.50Z" fill="#000"/>
<path d="M357.50 46.00L363.50 46.00L360.50 40.50Z" fill="#000"/>
<path d="M363.50 46.00L369.50 46.00L366.50 40.50Z" fill="#000"/>
<path d="M369.50 46.00L375.50 46.00L372.50 40.50Z" fill="#000"/>
<path d="M375.50 46.00L381.50 46.00L378.50 40.50Z" fill="#000"/>
<path d="M381.50 46.00L387.50 46.00L384.50 40.50Z" fill="#000"/>
<path d="M387.50 46.00L393.50 46.00L390.50 40.50Z" fill="#000"/>
<path d="M393.50 46.00L399.50 46.00L396.50 40.50Z" fill="#000"/>
<path d="M399.50 46.00L405.50 46.00L402.50 40.50Z" fill="#000"/>
<path d="M405.86 46.00L411.86 46.00L408.86 40.50Z" fill="#000"/>
<path d="M412.22 68.98L418.22 68.98L415.22 63.48Z" fill="#000"/>
<path d="M418.58 68.98L424.58 68.98L421.58 63.48Z" fill="#000"/>
<path d="M424.94 68.98L430.94 68.98L427.94 63.48Z" fill="#000"/>
<path d="M431.30 68.98L437.30 68.98L434.30 63.48Z" fill="#000"/>
<path d="M437.48 68.98L443.48 68.98L440.48 63.48Z" fill="#000"/>
<path d="M443.66 68.98L449.66 68.98L446.66 63.48Z" fill="#000"/>
<path d="M449.84 68.98L455.84 68.98L452.84 63.48Z" fill="#000"/>
<path d="M456.02 68.98L462.02 68.98L459.02 63.48Z" fill="#000"/>
<path d="M462.20 68.98L468.20 68.98L465.20 63.48Z" fill="#000"/>
<path d="M468.38 68.98L474.38 68.98L471.38 63.48Z" fill="#000"/>
<path d="M474.56 68.98L480.56 68.98L477.56 63.48Z" fill="#000"/>
<path d="M480.74 68.98L486.74 68.98L483.74 63.48Z" fill="#000"/>
<path d="M486.92 68.98L492.92 68.98L489.92 63.48Z" fill="#000"/>
<path d="M493.10 68.98L499.10 68.98L496.10 63.48Z" fill="#000"/>
<circle cx="354.50" cy="71.02" r="2.6" fill="#000"/>
<circle cx="360.50" cy="71.02" r="2.6" fill="#000"/>
<circle cx="366.50" cy="71.02" r="2.6" fill="#000"/>
<circle cx="372.50" cy="98.54" r="2.6" fill="#000"/>
<circle cx="378.50" cy="126.06" r="2.6" fill="#000"/>
<circle cx="384.50" cy="181.10" r="2.6" fill="#000"/>
<circle cx="390.50" cy="181.10" r="2.6" fill="#000"/>
<circle cx="396.50" cy="181.10" r="2.6" fill="#000"/>
<circle cx="402.50" cy="181.10" r="2.6" fill="#000"/>
<circle cx="408.86" cy="181.10" r="2.6" fill="#000"/>
<circle cx="415.22" cy="181.10" r="2.6" fill="#000"/>
<circle cx="421.58" cy="181.10" r="2.6" fill="#000"/>
<circle cx="427.94" cy="181.10" r="2.6" fill="#000"/>
<circle cx="434.30" cy="181.10" r="2.6" fill="#000"/>
<circle cx="440.48" cy="181.10" r="2.6" fill="#000"/>
<circle cx="446.66" cy="181.10" r="2.6" fill="#000"/>
<circle cx="452.84" cy="181.10" r="2.6" fill="#000"/>
<circle cx="459.02" cy="181.10" r="2.6" fill="#000"/>
<circle cx="465.20" cy="181.10" r="2.6" fill="#000"/>
<circle cx="471.38" cy="181.10" r="2.6" fill="#000"/>
<circle cx="477.56" cy="181.10" r="2.6" fill="#000"/>
<circle cx="483.74" cy="181.10" r="2.6" fill="#000"/>
<circle cx="489.92" cy="181.10" r="2.6" fill="#000"/>
<circle cx="496.10" cy="181.10" r="2.6" fill="#000"/>
<rect x="309.00" y="40.80" width="5.0" height="5.4" fill="#000"/>
<rect x="315.20" y="40.80" width="5.0" height="5.4" fill="#000"/>
<rect x="321.40" y="40.80" width="5.0" height="5.4" fill="#000"/>
<rect x="327.60" y="40.80" width="5.0" height="5.4" fill="#000"/>
<rect x="333.80" y="40.80" width="5.0" height="5.4" fill="#000"/>
<rect x="340.00" y="40.80" width="5.0" height="5.4" fill="#000"/>
<rect x="346.00" y="40.80" width="5.0" height="5.4" fill="#000"/>
<text x="407.9" y="33.8" text-anchor="middle" class="pt" style="font-size:8.95px">1 x 10<tspan dy="-3.6" style="font-size:4.6px">6</tspan><tspan dy="3.6"> PBMC</tspan></text>
<text x="274.4" y="33" class="pl">C</text>
<text x="503.6" y="42.4" class="t">d, e</text>
<text x="503.3" y="67.4" class="t">f, g</text>
<path d="M311.50 231.00V371.10H496.90" fill="none" stroke="#3a3a3a" stroke-width="0.9"/>
<path d="M309.80 371.10H311.50M310.40 357.09H311.50M309.80 343.08H311.50M310.40 329.07H311.50M309.80 315.06H311.50M310.40 301.05H311.50M309.80 287.04H311.50M310.40 273.03H311.50M309.80 259.02H311.50M310.40 245.01H311.50M309.80 231.00H311.50M311.50 371.10v1.7M317.70 371.10v1.0M323.90 371.10v1.0M330.10 371.10v1.0M336.30 371.10v1.0M342.50 371.10v1.7M348.50 371.10v1.0M354.50 371.10v1.0M360.50 371.10v1.0M366.50 371.10v1.0M372.50 371.10v1.7M378.60 371.10v1.0M384.70 371.10v1.0M390.80 371.10v1.0M396.90 371.10v1.0M403.00 371.10v1.7M409.30 371.10v1.0M415.60 371.10v1.0M421.90 371.10v1.0M428.20 371.10v1.0M434.50 371.10v1.7M440.76 371.10v1.0M447.02 371.10v1.0M453.28 371.10v1.0M459.54 371.10v1.0M465.80 371.10v1.7M472.02 371.10v1.0M478.24 371.10v1.0M484.46 371.10v1.0M490.68 371.10v1.0M496.90 371.10v1.7" stroke="#3a3a3a" stroke-width="0.7" fill="none"/>
<text x="299.70" y="373.50" text-anchor="middle" class="t">0</text>
<text x="299.70" y="345.90" text-anchor="middle" class="t">20</text>
<text x="299.70" y="317.50" text-anchor="middle" class="t">40</text>
<text x="299.70" y="290.30" text-anchor="middle" class="t">60</text>
<text x="299.70" y="262.30" text-anchor="middle" class="t">80</text>
<text x="299.70" y="235.30" text-anchor="middle" class="t">100</text>
<text x="311.50" y="383.40" text-anchor="middle" class="t">0</text>
<text x="342.50" y="383.40" text-anchor="middle" class="t">5</text>
<text x="372.50" y="383.40" text-anchor="middle" class="t">10</text>
<text x="403.00" y="383.40" text-anchor="middle" class="t">15</text>
<text x="434.50" y="383.40" text-anchor="middle" class="t">20</text>
<text x="465.80" y="383.40" text-anchor="middle" class="t">25</text>
<text x="496.90" y="383.40" text-anchor="middle" class="t">30</text>
<path d="M311.50 231.00L317.70 231.00L323.90 231.00L330.10 231.00L336.30 231.00L342.50 231.00L348.50 231.00L354.50 231.00L360.50 231.00L366.50 231.00L372.50 231.00L378.60 231.00L384.70 231.00L390.80 231.00L396.90 231.00L403.00 231.00L409.30 231.00L415.60 231.00L421.90 231.00L428.20 231.00L434.50 231.00L440.76 231.00L447.02 231.00L453.28 231.00L459.54 231.00L465.80 231.00L472.02 231.00L478.24 231.00L484.46 231.00L490.68 231.00L496.90 231.00" fill="none" stroke="#2a2a2a" stroke-width="0.75"/>
<path d="M311.50 231.00L317.70 231.00L323.90 231.00L330.10 231.00L336.30 231.00L342.50 231.00L348.50 231.00L354.50 231.00L360.50 231.00L366.50 277.65L372.50 324.45L378.60 324.45L384.70 324.45L390.80 324.45L396.90 324.45L403.00 324.45L409.30 324.45L415.60 324.45L421.90 324.45L428.20 324.45L434.50 324.45L440.76 324.45L447.02 324.45L453.28 324.45L459.54 324.45L465.80 324.45L472.02 324.45L478.24 324.45L484.46 324.45L490.68 324.45L496.90 324.45" fill="none" stroke="#2a2a2a" stroke-width="0.75"/>
<path d="M311.50 231.00L317.70 231.00L323.90 231.00L330.10 231.00L336.30 231.00L342.50 231.00L348.50 231.00L354.50 231.00L360.50 231.00L366.50 231.00L372.50 231.00L378.60 231.00L384.70 231.00L390.80 231.00L396.90 231.00L403.00 231.00L409.30 231.00L415.60 231.00L421.90 231.00L428.20 231.00L434.50 231.00L440.76 231.00L447.02 231.00L453.28 231.00L459.54 231.00L465.80 231.00L472.02 231.00L478.24 231.00L484.46 231.00L490.68 231.00L496.90 231.00" fill="none" stroke="#2a2a2a" stroke-width="0.75"/>
<path d="M311.50 231.00L317.70 231.00L323.90 231.00L330.10 231.00L336.30 231.00L342.50 231.00L348.50 231.00L354.50 259.02L360.50 259.02L366.50 315.06L372.50 315.06L378.60 315.06L384.70 343.08L390.80 343.08L396.90 371.10L403.00 371.10L409.30 371.10L415.60 371.10L421.90 371.10L428.20 371.10L434.50 371.10L440.76 371.10L447.02 371.10L453.28 371.10L459.54 371.10L465.80 371.10L472.02 371.10L478.24 371.10L484.46 371.10L490.68 371.10L496.90 371.10" fill="none" stroke="#2a2a2a" stroke-width="0.75"/>
<rect x="352.25" y="228.80" width="4.5" height="4.4" rx="0.5" fill="none" stroke="#111" stroke-width="0.85"/>
<rect x="358.25" y="228.80" width="4.5" height="4.4" rx="0.5" fill="none" stroke="#111" stroke-width="0.85"/>
<rect x="364.20" y="228.70" width="4.6" height="4.6" fill="none" stroke="#222" stroke-width="0.5"/>
<rect x="370.20" y="228.70" width="4.6" height="4.6" fill="none" stroke="#222" stroke-width="0.5"/>
<rect x="376.30" y="228.70" width="4.6" height="4.6" fill="none" stroke="#222" stroke-width="0.5"/>
<rect x="382.40" y="228.70" width="4.6" height="4.6" fill="none" stroke="#222" stroke-width="0.5"/>
<rect x="388.50" y="228.70" width="4.6" height="4.6" fill="none" stroke="#222" stroke-width="0.5"/>
<rect x="394.60" y="228.70" width="4.6" height="4.6" fill="none" stroke="#222" stroke-width="0.5"/>
<rect x="400.70" y="228.70" width="4.6" height="4.6" fill="none" stroke="#222" stroke-width="0.5"/>
<rect x="407.00" y="228.70" width="4.6" height="4.6" fill="none" stroke="#222" stroke-width="0.5"/>
<rect x="413.30" y="228.70" width="4.6" height="4.6" fill="none" stroke="#222" stroke-width="0.5"/>
<rect x="419.60" y="228.70" width="4.6" height="4.6" fill="none" stroke="#222" stroke-width="0.5"/>
<rect x="425.90" y="228.70" width="4.6" height="4.6" fill="none" stroke="#222" stroke-width="0.5"/>
<rect x="432.20" y="228.70" width="4.6" height="4.6" fill="none" stroke="#222" stroke-width="0.5"/>
<rect x="438.46" y="228.70" width="4.6" height="4.6" fill="none" stroke="#222" stroke-width="0.5"/>
<rect x="444.72" y="228.70" width="4.6" height="4.6" fill="none" stroke="#222" stroke-width="0.5"/>
<rect x="450.98" y="228.70" width="4.6" height="4.6" fill="none" stroke="#222" stroke-width="0.5"/>
<rect x="457.24" y="228.70" width="4.6" height="4.6" fill="none" stroke="#222" stroke-width="0.5"/>
<rect x="463.50" y="228.70" width="4.6" height="4.6" fill="none" stroke="#222" stroke-width="0.5"/>
<rect x="469.72" y="228.70" width="4.6" height="4.6" fill="none" stroke="#222" stroke-width="0.5"/>
<rect x="475.94" y="228.70" width="4.6" height="4.6" fill="none" stroke="#222" stroke-width="0.5"/>
<rect x="482.16" y="228.70" width="4.6" height="4.6" fill="none" stroke="#222" stroke-width="0.5"/>
<rect x="488.38" y="228.70" width="4.6" height="4.6" fill="none" stroke="#222" stroke-width="0.5"/>
<rect x="494.60" y="228.70" width="4.6" height="4.6" fill="none" stroke="#222" stroke-width="0.5"/>
<path d="M352.55 231.00L354.50 228.50L356.45 231.00L354.50 233.50Z" fill="#fff" stroke="#111" stroke-width="0.9" stroke-linejoin="round"/>
<path d="M358.55 231.00L360.50 228.50L362.45 231.00L360.50 233.50Z" fill="#fff" stroke="#111" stroke-width="0.9" stroke-linejoin="round"/>
<path d="M364.55 277.65L366.50 275.15L368.45 277.65L366.50 280.15Z" fill="#fff" stroke="#111" stroke-width="0.9" stroke-linejoin="round"/>
<path d="M370.55 324.45L372.50 321.95L374.45 324.45L372.50 326.95Z" fill="#fff" stroke="#111" stroke-width="0.9" stroke-linejoin="round"/>
<path d="M376.65 324.45L378.60 321.95L380.55 324.45L378.60 326.95Z" fill="#fff" stroke="#111" stroke-width="0.9" stroke-linejoin="round"/>
<path d="M382.75 324.45L384.70 321.95L386.65 324.45L384.70 326.95Z" fill="#fff" stroke="#111" stroke-width="0.9" stroke-linejoin="round"/>
<path d="M388.85 324.45L390.80 321.95L392.75 324.45L390.80 326.95Z" fill="#fff" stroke="#111" stroke-width="0.9" stroke-linejoin="round"/>
<path d="M394.95 324.45L396.90 321.95L398.85 324.45L396.90 326.95Z" fill="#fff" stroke="#111" stroke-width="0.9" stroke-linejoin="round"/>
<path d="M401.05 324.45L403.00 321.95L404.95 324.45L403.00 326.95Z" fill="#fff" stroke="#111" stroke-width="0.9" stroke-linejoin="round"/>
<path d="M407.35 324.45L409.30 321.95L411.25 324.45L409.30 326.95Z" fill="#fff" stroke="#111" stroke-width="0.9" stroke-linejoin="round"/>
<path d="M413.65 324.45L415.60 321.95L417.55 324.45L415.60 326.95Z" fill="#fff" stroke="#111" stroke-width="0.9" stroke-linejoin="round"/>
<path d="M419.95 324.45L421.90 321.95L423.85 324.45L421.90 326.95Z" fill="#fff" stroke="#111" stroke-width="0.9" stroke-linejoin="round"/>
<path d="M426.25 324.45L428.20 321.95L430.15 324.45L428.20 326.95Z" fill="#fff" stroke="#111" stroke-width="0.9" stroke-linejoin="round"/>
<path d="M432.55 324.45L434.50 321.95L436.45 324.45L434.50 326.95Z" fill="#fff" stroke="#111" stroke-width="0.9" stroke-linejoin="round"/>
<path d="M438.81 324.45L440.76 321.95L442.71 324.45L440.76 326.95Z" fill="#fff" stroke="#111" stroke-width="0.9" stroke-linejoin="round"/>
<path d="M445.07 324.45L447.02 321.95L448.97 324.45L447.02 326.95Z" fill="#fff" stroke="#111" stroke-width="0.9" stroke-linejoin="round"/>
<path d="M451.33 324.45L453.28 321.95L455.23 324.45L453.28 326.95Z" fill="#fff" stroke="#111" stroke-width="0.9" stroke-linejoin="round"/>
<path d="M457.59 324.45L459.54 321.95L461.49 324.45L459.54 326.95Z" fill="#fff" stroke="#111" stroke-width="0.9" stroke-linejoin="round"/>
<path d="M463.85 324.45L465.80 321.95L467.75 324.45L465.80 326.95Z" fill="#fff" stroke="#111" stroke-width="0.9" stroke-linejoin="round"/>
<path d="M470.07 324.45L472.02 321.95L473.97 324.45L472.02 326.95Z" fill="#fff" stroke="#111" stroke-width="0.9" stroke-linejoin="round"/>
<path d="M476.29 324.45L478.24 321.95L480.19 324.45L478.24 326.95Z" fill="#fff" stroke="#111" stroke-width="0.9" stroke-linejoin="round"/>
<path d="M482.51 324.45L484.46 321.95L486.41 324.45L484.46 326.95Z" fill="#fff" stroke="#111" stroke-width="0.9" stroke-linejoin="round"/>
<path d="M488.73 324.45L490.68 321.95L492.63 324.45L490.68 326.95Z" fill="#fff" stroke="#111" stroke-width="0.9" stroke-linejoin="round"/>
<path d="M494.95 324.45L496.90 321.95L498.85 324.45L496.90 326.95Z" fill="#fff" stroke="#111" stroke-width="0.9" stroke-linejoin="round"/>
<path d="M351.50 233.50L357.50 233.50L354.50 228.00Z" fill="#000"/>
<path d="M357.50 233.50L363.50 233.50L360.50 228.00Z" fill="#000"/>
<path d="M363.50 233.50L369.50 233.50L366.50 228.00Z" fill="#000"/>
<path d="M369.50 233.50L375.50 233.50L372.50 228.00Z" fill="#000"/>
<path d="M375.60 233.50L381.60 233.50L378.60 228.00Z" fill="#000"/>
<path d="M381.70 233.50L387.70 233.50L384.70 228.00Z" fill="#000"/>
<path d="M387.80 233.50L393.80 233.50L390.80 228.00Z" fill="#000"/>
<path d="M393.90 233.50L399.90 233.50L396.90 228.00Z" fill="#000"/>
<path d="M400.00 233.50L406.00 233.50L403.00 228.00Z" fill="#000"/>
<path d="M406.30 233.50L412.30 233.50L409.30 228.00Z" fill="#000"/>
<path d="M412.60 233.50L418.60 233.50L415.60 228.00Z" fill="#000"/>
<path d="M418.90 233.50L424.90 233.50L421.90 228.00Z" fill="#000"/>
<path d="M425.20 233.50L431.20 233.50L428.20 228.00Z" fill="#000"/>
<path d="M431.50 233.50L437.50 233.50L434.50 228.00Z" fill="#000"/>
<path d="M437.76 233.50L443.76 233.50L440.76 228.00Z" fill="#000"/>
<path d="M444.02 233.50L450.02 233.50L447.02 228.00Z" fill="#000"/>
<path d="M450.28 233.50L456.28 233.50L453.28 228.00Z" fill="#000"/>
<path d="M456.54 233.50L462.54 233.50L459.54 228.00Z" fill="#000"/>
<path d="M462.80 233.50L468.80 233.50L465.80 228.00Z" fill="#000"/>
<path d="M469.02 233.50L475.02 233.50L472.02 228.00Z" fill="#000"/>
<path d="M475.24 233.50L481.24 233.50L478.24 228.00Z" fill="#000"/>
<path d="M481.46 233.50L487.46 233.50L484.46 228.00Z" fill="#000"/>
<path d="M487.68 233.50L493.68 233.50L490.68 228.00Z" fill="#000"/>
<path d="M493.90 233.50L499.90 233.50L496.90 228.00Z" fill="#000"/>
<circle cx="354.50" cy="259.02" r="2.6" fill="#000"/>
<circle cx="360.50" cy="259.02" r="2.6" fill="#000"/>
<circle cx="366.50" cy="315.06" r="2.6" fill="#000"/>
<circle cx="372.50" cy="315.06" r="2.6" fill="#000"/>
<circle cx="378.60" cy="315.06" r="2.6" fill="#000"/>
<circle cx="384.70" cy="343.08" r="2.6" fill="#000"/>
<circle cx="390.80" cy="343.08" r="2.6" fill="#000"/>
<circle cx="396.90" cy="371.10" r="2.6" fill="#000"/>
<circle cx="403.00" cy="371.10" r="2.6" fill="#000"/>
<circle cx="409.30" cy="371.10" r="2.6" fill="#000"/>
<circle cx="415.60" cy="371.10" r="2.6" fill="#000"/>
<circle cx="421.90" cy="371.10" r="2.6" fill="#000"/>
<circle cx="428.20" cy="371.10" r="2.6" fill="#000"/>
<circle cx="434.50" cy="371.10" r="2.6" fill="#000"/>
<circle cx="440.76" cy="371.10" r="2.6" fill="#000"/>
<circle cx="447.02" cy="371.10" r="2.6" fill="#000"/>
<circle cx="453.28" cy="371.10" r="2.6" fill="#000"/>
<circle cx="459.54" cy="371.10" r="2.6" fill="#000"/>
<circle cx="465.80" cy="371.10" r="2.6" fill="#000"/>
<circle cx="472.02" cy="371.10" r="2.6" fill="#000"/>
<circle cx="478.24" cy="371.10" r="2.6" fill="#000"/>
<circle cx="484.46" cy="371.10" r="2.6" fill="#000"/>
<circle cx="490.68" cy="371.10" r="2.6" fill="#000"/>
<circle cx="496.90" cy="371.10" r="2.6" fill="#000"/>
<rect x="309.00" y="228.30" width="5.0" height="5.4" fill="#000"/>
<rect x="315.20" y="228.30" width="5.0" height="5.4" fill="#000"/>
<rect x="321.40" y="228.30" width="5.0" height="5.4" fill="#000"/>
<rect x="327.60" y="228.30" width="5.0" height="5.4" fill="#000"/>
<rect x="333.80" y="228.30" width="5.0" height="5.4" fill="#000"/>
<rect x="340.00" y="228.30" width="5.0" height="5.4" fill="#000"/>
<rect x="346.00" y="228.30" width="5.0" height="5.4" fill="#000"/>
<text x="408.5" y="222.9" text-anchor="middle" class="pt" style="font-size:8.8px">2.5 x 10<tspan dy="-3.6" style="font-size:4.6px">6</tspan><tspan dy="3.6"> PBMC</tspan></text>
<text x="273.7" y="221.2" class="pl">D</text>
<text x="505.9" y="223" class="t">d, e</text>
<text x="505.9" y="234" class="t">f, g</text>
<text transform="translate(9 102.3) rotate(-90)" text-anchor="middle" class="al" style="font-size:8.9px">% Survival</text>
<text transform="translate(9 288) rotate(-90)" text-anchor="middle" class="al" style="font-size:9.2px">% Survival</text>
<text transform="translate(279 101) rotate(-90)" text-anchor="middle" class="al" style="font-size:8.9px">% Survival</text>
<text transform="translate(279 288) rotate(-90)" text-anchor="middle" class="al" style="font-size:9.2px">% Survival</text>
<text x="131.7" y="204.1" text-anchor="middle" class="al">Days</text>
<text x="132.0" y="395.3" text-anchor="middle" class="al">Days</text>
<text x="404.7" y="204.0" text-anchor="middle" class="al">Days</text>
<text x="405.8" y="395.1" text-anchor="middle" class="al">Days</text>
</svg>
</body></html>
